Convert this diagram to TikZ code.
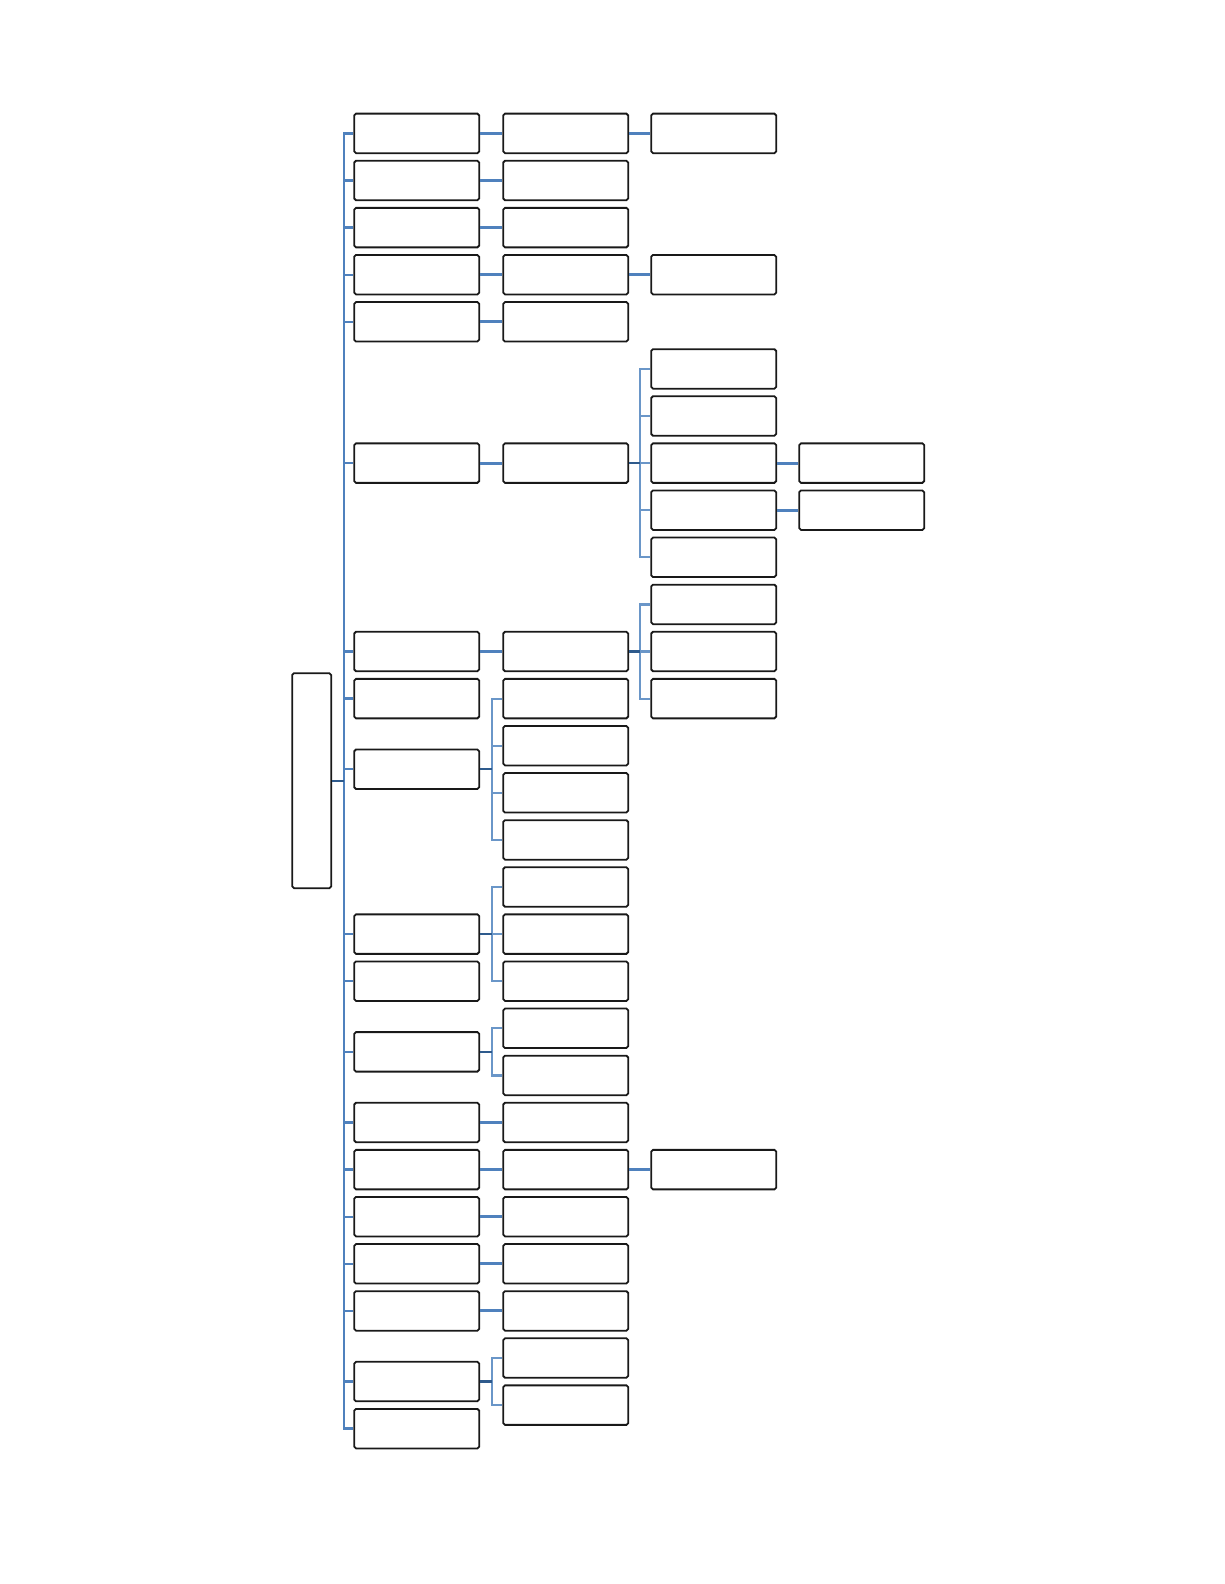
\documentclass[tikz,border=0pt]{standalone}
\definecolor{lnblue}{HTML}{4F81BD}
\definecolor{lnlight}{HTML}{6A96C8}
\definecolor{lndark}{HTML}{2E5A8C}
\begin{document}
\begin{tikzpicture}[x=1pt,y=-1pt,
  bx/.style={draw=black!90,line width=1.8pt,rounded corners=1.8pt,fill=white,inner sep=0pt,minimum width=125pt,minimum height=39.5pt},
  rootbx/.style={bx,minimum width=39pt,minimum height=215pt},
  lk/.style={draw=lnblue,line width=3pt},
  trunk/.style={draw=lnblue,line width=2.4pt},
  el/.style={draw=lnlight,line width=2.2pt},
  stub/.style={draw=lndark,line width=2.4pt}]
\useasboundingbox (0,0) rectangle (1224,1584);
\newcommand\lvbox[3]{\node[bx] (#1) at (#2,{133.4+47.1*#3}) {};}
% root
\node[rootbx] (r) at (311.7,780.7) {};
% level 1
\lvbox{a0}{416.7}{0}
\lvbox{a1}{416.7}{1}
\lvbox{a2}{416.7}{2}
\lvbox{a3}{416.7}{3}
\lvbox{a4}{416.7}{4}
\lvbox{a7}{416.7}{7}
\lvbox{a11}{416.7}{11}
\lvbox{a12}{416.7}{12}
\lvbox{a13}{416.7}{13.5}
\lvbox{a17}{416.7}{17}
\lvbox{a18}{416.7}{18}
\lvbox{a19}{416.7}{19.5}
\lvbox{a21}{416.7}{21}
\lvbox{a22}{416.7}{22}
\lvbox{a23}{416.7}{23}
\lvbox{a24}{416.7}{24}
\lvbox{a25}{416.7}{25}
\lvbox{a26}{416.7}{26.5}
\lvbox{a27}{416.7}{27.5}
% level 2
\foreach \k in {0,1,2,3,4,7,11,12,13,14,15,16,17,18,19,20,21,22,23,24,25,26,27}{\lvbox{b\k}{565.7}{\k}}
% level 3
\foreach \k in {0,3,5,6,7,8,9,10,11,12,22}{\lvbox{c\k}{713.7}{\k}}
% level 4
\foreach \k in {7,8}{\lvbox{d\k}{861.7}{\k}}
% trunk
\foreach \n in {a0,a1,a2,a3,a4,a7,a11,a12,a13,a17,a18,a19,a21,a22,a23,a24,a25,a26,a27}
  {\draw[trunk] (r.east) ++(11.6,0) |- (\n.west);}
\draw[stub] (r.east) -- ++(11.6,0);
% single links
\foreach \k in {0,1,2,3,4,7,11,21,22,23,24,25}{\draw[lk] (a\k.east) -- (b\k.west);}
\foreach \k in {0,3,22}{\draw[lk] (b\k.east) -- (c\k.west);}
\foreach \k in {7,8}{\draw[lk] (c\k.east) -- (d\k.west);}
% groups
\foreach \k in {5,6,7,8,9}{\draw[el] (b7.east) ++(11,0) |- (c\k.west);}
\draw[stub] (b7.east) -- ++(11,0);
\foreach \k in {10,11,12}{\draw[el] (b11.east) ++(11,0) |- (c\k.west);}
\draw[stub] (b11.east) -- ++(11,0);
\foreach \k in {12,13,14,15}{\draw[el] (a13.east) ++(11.5,0) |- (b\k.west);}
\draw[stub] (a13.east) -- ++(11.5,0);
\foreach \k in {16,17,18}{\draw[el] (a17.east) ++(11.5,0) |- (b\k.west);}
\draw[stub] (a17.east) -- ++(11.5,0);
\foreach \k in {19,20}{\draw[el] (a19.east) ++(11.5,0) |- (b\k.west);}
\draw[stub] (a19.east) -- ++(11.5,0);
\foreach \k in {26,27}{\draw[el] (a26.east) ++(11.5,0) |- (b\k.west);}
\draw[stub] (a26.east) -- ++(11.5,0);
\end{tikzpicture}
\end{document}
